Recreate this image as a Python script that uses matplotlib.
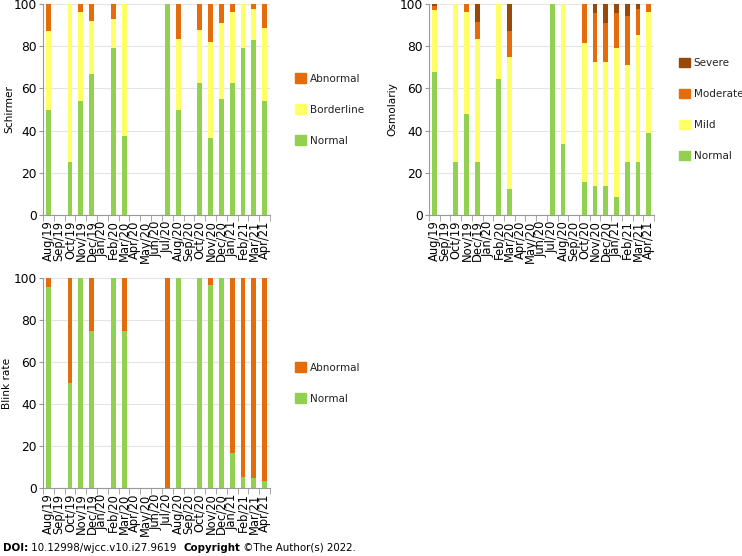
import matplotlib
matplotlib.use("Agg")
import matplotlib.pyplot as plt
from matplotlib.patches import Patch
import numpy as np

months = ["Aug/19", "Sep/19", "Oct/19", "Nov/19", "Dec/19", "Jan/20", "Feb/20", "Mar/20",
          "Apr/20", "May/20", "Jun/20", "Jul/20", "Aug/20", "Sep/20", "Oct/20", "Nov/20",
          "Dec/20", "Jan/21", "Feb/21", "Mar/21", "Apr/21"]

# Schirmer (%)
sch_normal     = [50, 0, 25, 54, 67, 0, 79, 37.5, 0, 0, 0, 100, 50, 0, 62.5, 36.6, 54.8, 62.7, 79, 82.8, 54]
sch_borderline = [37, 0, 75, 42, 25, 0, 14, 62.5, 0, 0, 0, 0, 33.5, 0, 25, 45.2, 36.4, 33.3, 21, 14.8, 34.5]
sch_abnormal   = [13, 0, 0, 4, 8, 0, 7, 0, 0, 0, 0, 0, 16.5, 0, 12.5, 18.2, 8.8, 4, 0, 2.4, 11.5]

# Osmolarity (%)
osm_normal   = [68, 0, 25, 47.9, 25, 0, 64.3, 12.3, 0, 0, 0, 100, 33.5, 0, 15.8, 13.7, 13.7, 8.4, 25, 25, 38.7]
osm_mild     = [29, 0, 75, 48.1, 58.3, 0, 35.7, 62.7, 0, 0, 0, 0, 66.5, 0, 65.6, 59, 59, 70.6, 46, 60.3, 57.7]
osm_moderate = [2.2, 0, 0, 4, 8.3, 0, 0, 12.4, 0, 0, 0, 0, 0, 0, 18.6, 22.9, 18.5, 16.9, 23.5, 12.3, 3.6]
osm_severe   = [0.8, 0, 0, 0, 8.4, 0, 0, 12.6, 0, 0, 0, 0, 0, 0, 0, 4.4, 8.8, 4.1, 5.5, 2.4, 0]

# Blink rate (%)
blink_normal   = [95.9, 0, 50, 100, 75, 0, 100, 75, 0, 0, 0, 0, 100, 0, 100, 96.8, 100, 16.5, 5.4, 4.8, 3.2]
blink_abnormal = [4.1, 0, 50, 0, 25, 0, 0, 25, 0, 0, 0, 100, 0, 0, 0, 3.2, 0, 83.5, 94.6, 95.2, 96.8]

GREEN = "#92D050"
YELLOW = "#FFFF66"
ORANGE = "#E46C0A"
BROWN = "#984807"

plt.rcParams["font.family"] = "DejaVu Sans"
plt.rcParams["font.size"] = 9
plt.rcParams["text.color"] = "#222222"

fig = plt.figure(figsize=(7.42, 5.56), dpi=100)
W, H = 742, 556


def make_ax(left, top, right, bottom):
    return fig.add_axes([left / W, 1 - bottom / H, (right - left) / W, (bottom - top) / H])


def stacked(ax, series, ylabel, lab_x):
    x = np.arange(len(months))
    base = np.zeros(len(months))
    for vals, col, lab in series:
        ax.bar(x, vals, width=0.45, bottom=base, color=col, label=lab, zorder=2)
        base += np.array(vals)
    ax.set_xlim(-0.5, len(months) - 0.5)
    ax.set_ylim(0, 100)
    ax.set_yticks([0, 20, 40, 60, 80, 100])
    ax.yaxis.grid(True, color="#e4e4e4", lw=0.8, zorder=0)
    ax.set_xticks(x)
    ax.set_xticklabels(months, rotation=90, fontsize=8.3)
    ax.set_xticks(np.arange(-0.5, len(months)), minor=True)
    ax.tick_params(axis="x", which="major", length=0, pad=4)
    ax.tick_params(axis="x", which="minor", length=4, color="#999999")
    ax.tick_params(axis="y", length=3, color="#999999", pad=1.5, labelsize=8.8)
    for s in ["top", "right"]:
        ax.spines[s].set_visible(False)
    for s in ["left", "bottom"]:
        ax.spines[s].set_color("#999999")
    ax.set_ylabel(ylabel, fontsize=7.6)
    ax.yaxis.set_label_coords(lab_x, 0.5)
    handles = [Patch(color=c, label=l) for _, c, l in series][::-1]
    ax.legend(handles=handles, loc="center left", bbox_to_anchor=(1.07, 0.5), frameon=False,
              labelspacing=2.0, handlelength=1.0, handleheight=1.0, handletextpad=0.4,
              fontsize=7.5)


ax1 = make_ax(43, 4, 270, 215)
stacked(ax1, [(sch_normal, GREEN, "Normal"), (sch_borderline, YELLOW, "Borderline"),
              (sch_abnormal, ORANGE, "Abnormal")], "Schirmer", -0.128)

ax2 = make_ax(429, 4, 654, 215)
stacked(ax2, [(osm_normal, GREEN, "Normal"), (osm_mild, YELLOW, "Mild"),
              (osm_moderate, ORANGE, "Moderate"), (osm_severe, BROWN, "Severe")], "Osmolariy", -0.142)

ax3 = make_ax(43, 278, 270, 488)
stacked(ax3, [(blink_normal, GREEN, "Normal"), (blink_abnormal, ORANGE, "Abnormal")], "Blink rate", -0.135)

# footer
parts = [("DOI:", "bold"), (" 10.12998/wjcc.v10.i27.9619  ", "normal"),
         ("Copyright", "bold"), (" \u00a9The Author(s) 2022.", "normal")]
fig.canvas.draw()
r = fig.canvas.get_renderer()
xp = 3
for txt, wgt in parts:
    t = fig.text(xp / W, 1 - 548 / H, txt, fontsize=7.4, fontweight=wgt, va="center", ha="left",
                 color="black")
    xp += t.get_window_extent(renderer=r).width

fig.savefig("out.png", dpi=100)
